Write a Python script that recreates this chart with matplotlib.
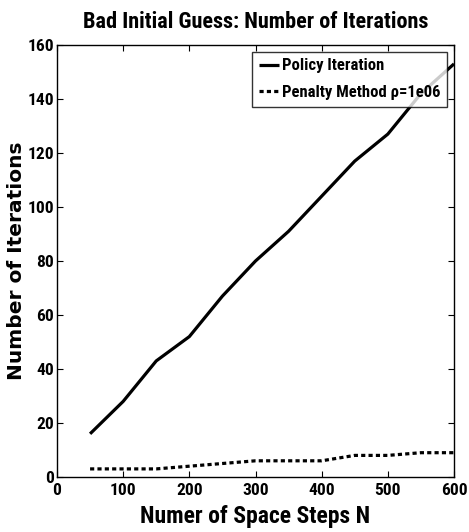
import matplotlib
matplotlib.use("Agg")
import matplotlib.pyplot as plt

N = [50, 100, 150, 200, 250, 300, 350, 400, 450, 500, 550, 600]
policy = [16, 28, 43, 52, 67, 80, 91, 104, 117, 127, 142, 153]
penalty = [3, 3, 3, 4, 5, 6, 6, 6, 8, 8, 9, 9]
xticks = [0, 100, 200, 300, 400, 500, 600]
yticks = [0, 20, 40, 60, 80, 100, 120, 140, 160]

COND = ["Roboto Condensed", "DejaVu Sans"]

fig = plt.figure(figsize=(4.69, 5.32), dpi=100)
W, H = 469, 532
ax = fig.add_axes([57 / W, 1 - 477 / H, (454 - 57) / W, (477 - 45) / H])

ax.plot(N, policy, color="black", lw=2.3, label="Policy Iteration", solid_capstyle="butt")
ax.plot(N, penalty, color="black", lw=2.3, linestyle=(0, (1.3, 1.0)), dash_capstyle="butt",
        label="Penalty Method \u03c1=1e06")

ax.set_xlim(0, 600)
ax.set_ylim(0, 160)
ax.set_xticks(xticks)
ax.set_yticks(yticks)
ax.tick_params(direction="in", top=True, right=True, length=4, width=0.8, pad=2)
ax.tick_params(axis="x", pad=4)
for lab in ax.get_xticklabels() + ax.get_yticklabels():
    lab.set_fontfamily(COND)
    lab.set_fontweight("bold")
    lab.set_fontsize(12.5)
for s in ax.spines.values():
    s.set_linewidth(1.0)

ax.set_title("Bad Initial Guess: Number of Iterations", fontfamily=COND, fontweight="bold",
             fontsize=16, pad=12)
ax.set_xlabel("Numer of Space Steps N", fontfamily=COND, fontweight="bold", fontsize=17, labelpad=5)
ax.set_ylabel("Number of Iterations", fontfamily="DejaVu Sans", fontweight="bold", fontsize=14.5)
ax.yaxis.set_label_coords((26 - 57) / 397, 0.5)

leg = ax.legend(loc="upper right", prop={"family": COND, "weight": "bold", "size": 12},
                frameon=True, fancybox=False, borderaxespad=0.4, handlelength=1.2,
                handletextpad=0.2, borderpad=0.4, labelspacing=0.7)
leg.get_frame().set_edgecolor("black")
leg.get_frame().set_linewidth(1.0)

fig.savefig("out.png", dpi=100)
